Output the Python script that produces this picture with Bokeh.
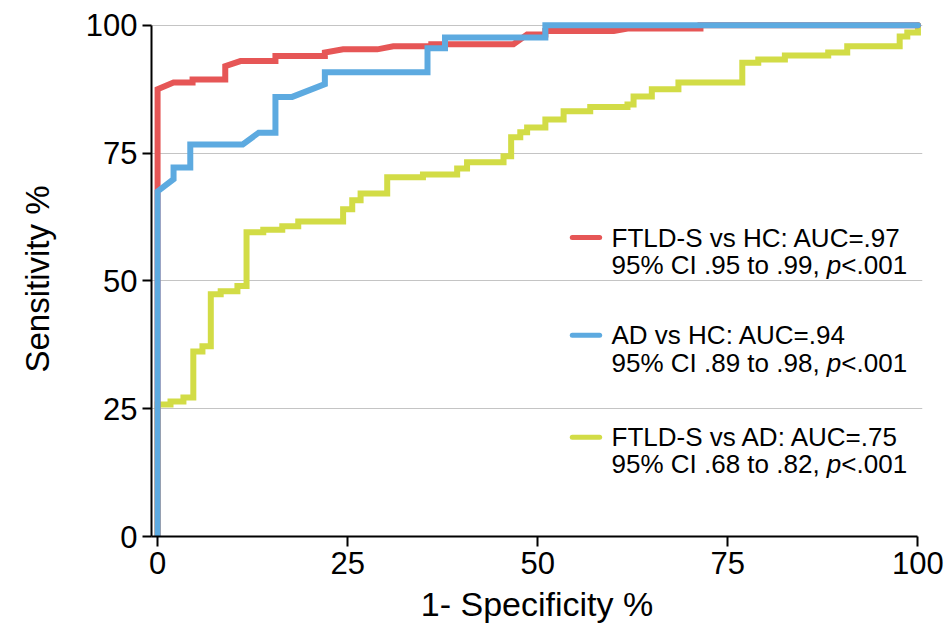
from bokeh.plotting import figure
from bokeh.models import Range1d, Label, FixedTicker
from bokeh.embed import file_html
from bokeh.resources import INLINE

# ---------------- data ----------------
ticks = [0, 25, 50, 75, 100]

# FTLD-S vs HC (vertices of the ROC line)
ftld_hc_fpr = [0, 0, 2.1, 4.6, 4.6, 8.9, 8.9, 10.9, 15.5, 15.5, 22.0, 22.0, 24.4,
               28.9, 31.0, 36.0, 36.0, 46.8, 48.6, 51.0, 51.0, 60.0, 62.0, 71.4, 71.4, 100]
ftld_hc_tpr = [0, 87.5, 88.8, 88.8, 89.4, 89.4, 92.0, 93.0, 93.0, 94.0, 94.0, 94.7, 95.3,
               95.3, 95.9, 95.9, 96.3, 96.3, 98.2, 98.2, 98.9, 98.9, 99.4, 99.4, 100, 100]

# AD vs HC
ad_hc_fpr = [0, 0, 2.1, 2.1, 4.3, 4.3, 11.2, 13.3, 15.5, 15.5, 17.7, 22.0, 22.0,
             35.5, 35.5, 37.8, 37.8, 51.0, 51.0, 100]
ad_hc_tpr = [0, 67.5, 69.9, 72.2, 72.2, 76.7, 76.7, 79.0, 79.0, 86.0, 86.0, 88.5, 90.8,
             90.8, 95.5, 95.5, 97.6, 97.6, 100, 100]

# FTLD-S vs AD (step points: at fpr the curve rises to tpr)
ftld_ad_fpr = [0, 1.7, 3.4, 4.7, 5.9, 7.0, 8.3, 10.5, 11.7, 13.9, 16.4, 18.5, 24.4,
               25.6, 26.7, 30.2, 34.9, 39.4, 40.7, 45.5, 46.5, 47.7, 48.6, 51.0, 53.4,
               56.9, 61.8, 62.6, 65.0, 68.5, 76.9, 79.0, 82.5, 88.2, 90.7, 97.6, 98.6, 100]
ftld_ad_tpr = [25.8, 26.4, 27.2, 36.2, 37.2, 47.4, 48.0, 49.0, 59.5, 60.0, 60.7, 61.6, 64.0,
               65.8, 67.1, 70.3, 70.8, 72.0, 73.2, 74.4, 78.1, 79.1, 80.0, 81.6, 83.2,
               84.0, 84.5, 86.1, 87.5, 88.8, 92.7, 93.3, 94.1, 94.7, 95.9, 97.8, 98.6, 100]

series_names = ["FTLD-S vs HC: AUC=.97", "AD vs HC: AUC=.94", "FTLD-S vs AD: AUC=.75"]
series_ci = ["95% CI .95 to .99, ", "95% CI .89 to .98, ", "95% CI .68 to .82, "]
series_colors = ["#E65656", "#5DAAE0", "#D2DC46"]

x_title = "1- Specificity %"
y_title = "Sensitivity %"

# expand step points of the yellow curve into line vertices
ad_x, ad_y, prev = [0.0], [0.0], 0.0
for fx, ty in zip(ftld_ad_fpr, ftld_ad_tpr):
    ad_x += [fx, fx]
    ad_y += [prev, ty]
    prev = ty

FONT = "Liberation Sans"

p = figure(width=949, height=632, output_backend="svg", toolbar_location=None,
           x_range=Range1d(-0.8, 100.6), y_range=Range1d(0, 100.75),
           min_border_left=151, min_border_right=27, min_border_top=21,
           min_border_bottom=96, title=None)
p.outline_line_color = None
p.background_fill_color = "white"
p.border_fill_color = "white"

# grid
p.xgrid.visible = False
p.ygrid.ticker = FixedTicker(ticks=[25, 50, 75, 100])
p.ygrid.grid_line_color = "#c4c4c4"
p.ygrid.grid_line_width = 1.2

# axes
for ax in (p.xaxis[0], p.yaxis[0]):
    ax.ticker = FixedTicker(ticks=ticks)
    ax.axis_line_color = "black"
    ax.axis_line_width = 2
    ax.major_tick_line_color = "black"
    ax.major_tick_line_width = 2
    ax.major_tick_in = 0
    ax.minor_tick_line_color = None
    ax.major_label_text_font = FONT
    ax.major_label_text_font_size = "31px"
    ax.major_label_text_color = "black"
    ax.major_label_standoff = 5
    ax.axis_label_text_font = FONT
    ax.axis_label_text_font_style = "normal"
    ax.axis_label_text_color = "black"
p.xaxis.major_tick_out = 10
p.yaxis.major_tick_out = 9
p.xaxis.bounds = (-0.8, 100)
p.yaxis.bounds = (0, 100)
p.xaxis.axis_label = x_title
p.yaxis.axis_label = y_title
p.xaxis.axis_label_text_font_size = "34px"
p.yaxis.axis_label_text_font_size = "33px"
p.xaxis.axis_label_standoff = 8
p.yaxis.axis_label_standoff = 27

# curves
p.line(ad_x, ad_y, line_width=6, line_color=series_colors[2], line_join="miter", line_cap="round")
p.line(ftld_hc_fpr, ftld_hc_tpr, line_width=6, line_color=series_colors[0], line_join="miter", line_cap="round")
p.line(ad_hc_fpr, ad_hc_tpr, line_width=6, line_color=series_colors[1], line_join="miter", line_cap="round")

# legend (manual, two lines per entry with italic p)
LEG_FS = 26
em = {'9': .556, '5': .556, '%': .889, ' ': .278, 'C': .722, 'I': .278, '.': .278,
      't': .278, 'o': .556, ',': .278, '8': .556, '4': .556, '6': .556, '2': .556}
def width_px(s):
    return sum(em.get(c, .556) for c in s) * LEG_FS

leg_sw_x0, leg_sw_x1, leg_tx = 54.54, 58.14, 59.7
# (swatch y, line-1 centre y, line-2 centre y)
leg_rows = [(58.49, 58.49, 53.21), (39.38, 39.46, 33.90), (19.43, 19.56, 14.28)]
for i, (sw_y, l1_y, l2_y) in enumerate(leg_rows):
    p.line([leg_sw_x0, leg_sw_x1], [sw_y, sw_y], line_width=5, line_color=series_colors[i],
           line_cap="round")
    common = dict(text_baseline="middle", text_font=FONT, text_font_size=f"{LEG_FS}px",
                  text_color="black")
    p.add_layout(Label(x=leg_tx, y=l1_y, text=series_names[i], **common))
    p.add_layout(Label(x=leg_tx, y=l2_y, text=series_ci[i].rstrip(), **common))
    off = width_px(series_ci[i])
    p.add_layout(Label(x=leg_tx, y=l2_y, x_offset=off, text="p", text_font_style="italic", **common))
    p.add_layout(Label(x=leg_tx, y=l2_y, x_offset=off + .556 * LEG_FS, text="<.001", **common))

open("out.html", "w").write(file_html(p, INLINE))
